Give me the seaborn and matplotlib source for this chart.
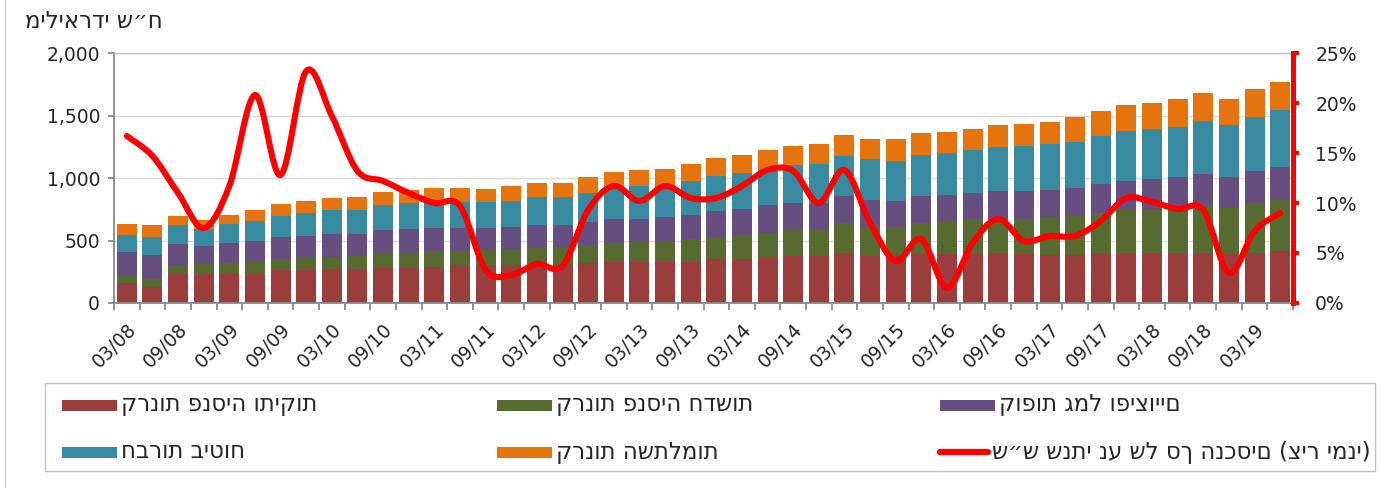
import numpy as np
import pandas as pd
import matplotlib
matplotlib.use("Agg")
import matplotlib.pyplot as plt
import seaborn as sns
from matplotlib.path import Path
from matplotlib.patches import PathPatch, Rectangle
from matplotlib.lines import Line2D

# ---------------- data ----------------
quarters = ["03/08", "06/08", "09/08", "12/08", "03/09", "06/09", "09/09", "12/09",
            "03/10", "06/10", "09/10", "12/10", "03/11", "06/11", "09/11", "12/11",
            "03/12", "06/12", "09/12", "12/12", "03/13", "06/13", "09/13", "12/13",
            "03/14", "06/14", "09/14", "12/14", "03/15", "06/15", "09/15", "12/15",
            "03/16", "06/16", "09/16", "12/16", "03/17", "06/17", "09/17", "12/17",
            "03/18", "06/18", "09/18", "12/18", "03/19", "06/19"]

old_pension = [160, 128, 235, 235, 243, 243, 261, 261, 272, 272, 283, 283, 291, 301, 301, 301,
               307, 307, 320, 331, 331, 331, 331, 349, 349, 365, 376, 376, 403, 376, 376, 395,
               395, 403, 403, 395, 384, 384, 403, 403, 403, 403, 403, 395, 403, 413]
new_pension = [53, 67, 66, 74, 77, 88, 88, 96, 93, 101, 112, 112, 122, 112, 120, 131,
               136, 136, 141, 149, 160, 160, 178, 179, 195, 198, 208, 216, 237, 232, 232, 245,
               253, 266, 266, 280, 301, 312, 320, 338, 346, 357, 378, 365, 397, 414]
provident = [192, 192, 168, 144, 160, 168, 179, 179, 190, 182, 189, 200, 190, 190, 182, 179,
             178, 178, 187, 195, 184, 194, 198, 205, 211, 218, 216, 208, 219, 219, 211, 216,
             219, 214, 224, 218, 219, 227, 229, 238, 240, 248, 254, 248, 253, 264]
insurance = [139, 138, 152, 142, 149, 160, 171, 181, 189, 189, 197, 205, 208, 208, 208, 208,
             227, 227, 235, 245, 258, 254, 272, 286, 282, 286, 301, 312, 320, 325, 320, 331,
             330, 341, 352, 360, 368, 368, 387, 394, 406, 403, 418, 413, 435, 456]
study_funds = [88, 96, 75, 72, 78, 85, 93, 102, 93, 104, 104, 104, 112, 112, 101, 114,
               112, 112, 128, 125, 131, 136, 133, 141, 150, 160, 152, 160, 168, 160, 173, 170,
               171, 171, 176, 179, 179, 200, 197, 208, 208, 218, 227, 208, 227, 224]
growth_pct = [16.7, 14.7, 11.0, 7.5, 11.7, 20.8, 12.8, 23.2, 18.7, 13.2, 12.2, 11.0, 10.0, 9.7,
              3.3, 2.8, 3.9, 3.7, 9.3, 11.7, 10.2, 11.7, 10.5, 10.5, 11.7, 13.3, 13.2, 10.0,
              13.3, 8.0, 4.2, 6.4, 1.5, 6.0, 8.4, 6.2, 6.7, 6.7, 8.2, 10.5, 10.1, 9.4, 9.3,
              3.0, 7.2, 9.0]

series_names = ["קרנות פנסיה ותיקות", "קרנות פנסיה חדשות", "קופות גמל ופיצויים",
                "חברות ביטוח", "קרנות השתלמות"]
line_name = "ש״ש שנתי נע של סך הנכסים (ציר ימני)"
title_text = "מיליארדי ש״ח"
left_ticks = [0, 500, 1000, 1500, 2000]
right_ticks = [0, 5, 10, 15, 20, 25]

colors = ["#9A3D3C", "#576A2F", "#664F80", "#378AA0", "#E6740E"]
LINE_RED = "#FF0000"

# ---------------- figure ----------------
sns.set_theme(style="white")
plt.rcParams["font.family"] = ["DejaVu Sans"]

W, H = 1381, 488
fig = plt.figure(figsize=(W / 100, H / 100), dpi=100)
fig.patch.set_facecolor("white")
ax = fig.add_axes([114 / W, 1 - 303 / H, (1293 - 114) / W, (303 - 53) / H])

layers = [old_pension, new_pension, provident, insurance, study_funds]
cum = np.cumsum(np.array(layers, dtype=float), axis=0)
df = pd.DataFrame({"quarter": quarters})
for k in range(5):
    df[f"cum{k}"] = cum[k]

for k in reversed(range(5)):
    sns.barplot(data=df, x="quarter", y=f"cum{k}", order=quarters, color=colors[k],
                saturation=1, width=0.78, linewidth=0, errorbar=None, ax=ax, zorder=2)

ax.set_xlim(-0.5, len(quarters) - 0.5)
ax.set_ylim(0, 2000)
ax.set_xlabel("")
ax.set_ylabel("")
ax.set_yticks(left_ticks)
ax.set_yticklabels([f"{v:,}" for v in left_ticks])
ax.yaxis.grid(True, color="#D9D9D9", lw=1)
ax.xaxis.grid(False)
ax.set_axisbelow(True)
for sp in ["left", "bottom"]:
    ax.spines[sp].set_color("#888888")
    ax.spines[sp].set_linewidth(1.3)
ax.spines["top"].set_color("#BFBFBF")
ax.spines["top"].set_linewidth(1)
ax.spines["right"].set_visible(False)
ax.tick_params(axis="y", direction="out", length=4, width=1.3, color="#888888",
               labelsize=13.5, pad=6, left=True)

# boundaries as major ticks, labels at every other quarter as minor ticks
ax.set_xticks(np.arange(-0.5, len(quarters), 1.0))
ax.set_xticklabels([])
ax.tick_params(axis="x", which="major", direction="out", length=5, width=1.3,
               color="#888888", bottom=True)
label_pos = list(range(0, len(quarters), 2))
ax.set_xticks(label_pos, minor=True)
ax.set_xticklabels([quarters[i] for i in label_pos], minor=True, rotation=45,
                   ha="right", va="top", rotation_mode="anchor", fontsize=13.5)
ax.tick_params(axis="x", which="minor", length=0, pad=12)

# right axis with the growth line
ax2 = ax.twinx()
ax2.set_ylim(0, 25)
ax2.set_yticks(right_ticks)
ax2.set_yticklabels([f"{v}%" for v in right_ticks])
ax2.grid(False)
for sp in ["left", "top", "bottom"]:
    ax2.spines[sp].set_visible(False)
ax2.spines["right"].set_color(LINE_RED)
ax2.spines["right"].set_linewidth(3.6)
ax2.tick_params(axis="y", direction="out", length=4, width=3, color=LINE_RED,
                labelsize=13.5, pad=12, right=True)

xs = np.arange(len(growth_pct), dtype=float)
ys = np.array(growth_pct, dtype=float)
n = len(xs)
pts = np.column_stack([xs, ys])
verts = [tuple(pts[0])]
codes = [Path.MOVETO]
for i in range(n - 1):
    p0 = pts[max(i - 1, 0)]
    p1 = pts[i]
    p2 = pts[i + 1]
    p3 = pts[min(i + 2, n - 1)]
    c1 = p1 + (p2 - p0) / 6.0
    c2 = p2 - (p3 - p1) / 6.0
    verts += [tuple(c1), tuple(c2), tuple(p2)]
    codes += [Path.CURVE4] * 3
ax2.add_patch(PathPatch(Path(verts, codes), fill=False, edgecolor=LINE_RED, lw=4.4,
                        capstyle="round", joinstyle="round", zorder=5))

HEB_SIZE = 16.5
# title
fig.text(25 / W, 1 - 21 / H, title_text, fontsize=HEB_SIZE, ha="left", va="center")

# left border of chart area
fig.add_artist(Line2D([5 / W, 5 / W], [0, 1], transform=fig.transFigure,
                      color="#D0D0D0", lw=1))

# legend (manual placement, as in the reference)
fig.add_artist(Rectangle((45 / W, 1 - 471 / H), (1375 - 45) / W, (471 - 383) / H,
                         transform=fig.transFigure, fill=False, edgecolor="#C0C0C0", lw=1))
entries = [
    (0, 62, 405), (1, 497, 405), (2, 940, 405),
    (3, 62, 452), (4, 497, 452),
]
for k, x0, yc in entries:
    fig.add_artist(Rectangle((x0 / W, 1 - (yc + 5.5) / H), 55 / W, 11 / H,
                             transform=fig.transFigure, facecolor=colors[k], edgecolor="none"))
    fig.text((x0 + 59) / W, 1 - yc / H, series_names[k], fontsize=HEB_SIZE,
             ha="left", va="center")
fig.add_artist(Line2D([940 / W, 988 / W], [1 - 452 / H, 1 - 452 / H], transform=fig.transFigure,
                      color=LINE_RED, lw=4.5, solid_capstyle="round"))
fig.text(992 / W, 1 - 452 / H, line_name, fontsize=HEB_SIZE, ha="left", va="center")

fig.savefig("out.png", dpi=100)
